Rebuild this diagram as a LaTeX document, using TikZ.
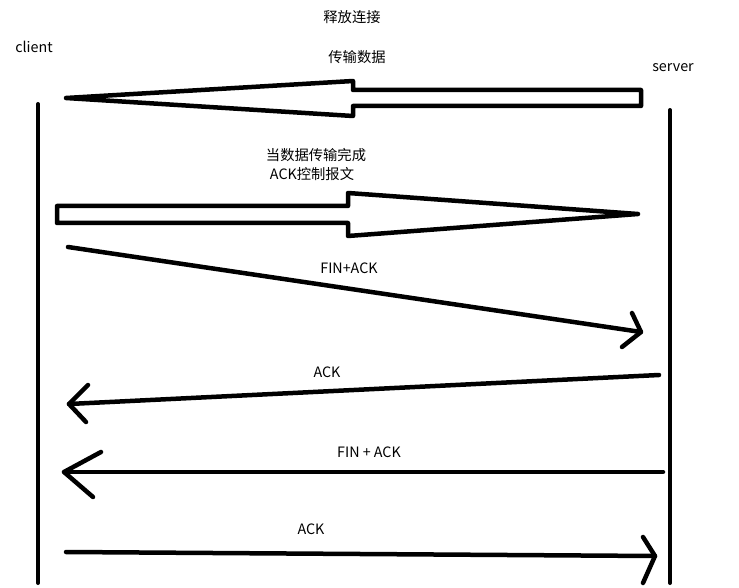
\documentclass[tikz,border=0pt]{standalone}
\usepackage{fontspec}
\setmainfont{Noto Sans CJK SC}
\begin{document}
\begin{tikzpicture}[x=1pt,y=-1pt,
  lbl/.style={font=\fontsize{14.3}{16}\selectfont, inner sep=0pt, anchor=center},
  life/.style={line width=4pt, line cap=round},
  msg/.style={line width=4.5pt, line cap=round, line join=round},
  hollow/.style={line width=4.5pt, line join=round, fill=white}]
\useasboundingbox[fill=white] (0,0) rectangle (739,588);
% labels
\node[lbl] (release) at (352,17) {释放连接};
\node[lbl] (client) at (34,47) {client};
\node[lbl] (transfer) at (357,57) {传输数据};
\node[lbl] (server) at (673,68) {server};
\node[lbl] (done) at (316,155) {当数据传输完成};
\node[lbl] (ackctl) at (312,174) {ACK控制报文};
\node[lbl] (finack1) at (349,268) {FIN+ACK};
\node[lbl] (ack1) at (327,372) {ACK};
\node[lbl] (finack2) at (369,452) {FIN + ACK};
\node[lbl] (ack2) at (311,529) {ACK};
% lifelines
\coordinate (c1) at (38,104); \coordinate (c2) at (38,583);
\coordinate (s1) at (670,110); \coordinate (s2) at (670,583);
\draw[life] (c1) -- (c2);
\draw[life] (s1) -- (s2);
% hollow arrow 1 (to client)
\coordinate (a1tip) at (66,98);
\draw[hollow] (a1tip) -- (353,81) -- (353,90) -- (641,90) -- (641,106) -- (353,106) -- (353,116) -- cycle;
% hollow arrow 2 (to server)
\coordinate (a2tip) at (638,214);
\draw[hollow] (57,206) -- (348,206) -- (348,193) -- (a2tip) -- (348,236) -- (348,223) -- (57,223) -- cycle;
% FIN+ACK client -> server
\coordinate (m1s) at (68,247); \coordinate (m1e) at (641,332);
\draw[msg] (m1s) -- (m1e);
\draw[msg] (632,313) -- (m1e) -- (622,347);
% ACK server -> client
\coordinate (m2s) at (659,375); \coordinate (m2e) at (69,404);
\draw[msg] (m2s) -- (m2e);
\draw[msg] (88,385) -- (m2e) -- (86,422);
% FIN + ACK server -> client
\coordinate (m3s) at (663,472); \coordinate (m3e) at (64,472);
\draw[msg] (m3s) -- (m3e);
\draw[msg] (101,452) -- (m3e) -- (93,497);
% ACK client -> server
\coordinate (m4s) at (66,552); \coordinate (m4e) at (655,556);
\draw[msg] (m4s) -- (m4e);
\draw[msg] (643,537) -- (m4e) -- (643,583);
\end{tikzpicture}
\end{document}
